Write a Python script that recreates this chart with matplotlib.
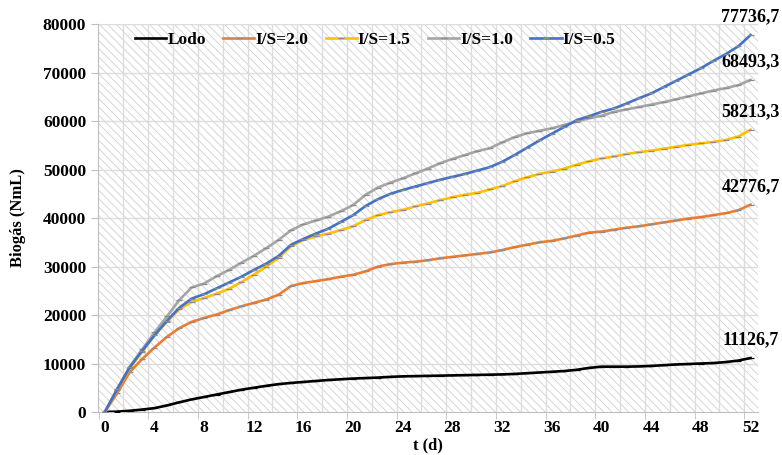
import matplotlib.pyplot as plt
import numpy as np
from matplotlib.patches import Rectangle

plt.rcParams['font.family'] = ['Liberation Serif', 'DejaVu Serif']
plt.rcParams['font.weight'] = 'bold'
plt.rcParams['hatch.linewidth'] = 0.6

# cumulative biogas production (NmL) per day of digestion
days = np.arange(0, 53)

lodo = [0, 80, 250, 500, 800, 1350, 2000, 2600, 3100, 3600,
        4100, 4600, 5000, 5400, 5750, 6000, 6200, 6400, 6600, 6750,
        6900, 7000, 7100, 7250, 7350, 7400, 7450, 7500, 7550, 7600,
        7650, 7700, 7750, 7850, 8000, 8150, 8300, 8450, 8700, 9100,
        9350, 9350, 9350, 9400, 9500, 9650, 9800, 9900, 10000, 10100,
        10300, 10600, 11126.7]

is_20 = [0, 3900, 8200, 10900, 13300, 15500, 17300, 18600, 19400, 20100,
         21000, 21800, 22500, 23200, 24200, 26000, 26600, 27000, 27400, 27900,
         28300, 29000, 30000, 30500, 30800, 31000, 31300, 31700, 32000, 32300,
         32600, 32900, 33400, 34000, 34500, 35000, 35300, 35800, 36400, 37000,
         37200, 37600, 38000, 38300, 38700, 39100, 39500, 39900, 40200, 40600,
         41000, 41600, 42776.7]

is_15 = [0, 4600, 9000, 12400, 15800, 18600, 21200, 22700, 23500, 24400,
         25400, 26800, 28300, 30000, 31800, 34200, 35500, 36200, 36800, 37500,
         38300, 39600, 40600, 41200, 41700, 42400, 43000, 43700, 44300, 44800,
         45200, 45900, 46600, 47600, 48400, 49100, 49600, 50200, 51000, 51700,
         52300, 52700, 53200, 53600, 53900, 54300, 54700, 55100, 55400, 55700,
         56100, 56800, 58213.3]

is_10 = [0, 4800, 9300, 12900, 16400, 19700, 23100, 25700, 26500, 28000,
         29300, 30800, 32200, 33800, 35500, 37500, 38700, 39500, 40300, 41400,
         42700, 44800, 46300, 47300, 48200, 49200, 50200, 51300, 52200, 53000,
         53800, 54400, 55600, 56700, 57500, 58000, 58500, 59200, 59900, 60600,
         61100, 61900, 62400, 62900, 63400, 63900, 64500, 65100, 65700, 66300,
         66800, 67400, 68493.3]

is_05 = [0, 4700, 9200, 12600, 15800, 18800, 21500, 23400, 24300, 25500,
         26700, 27900, 29300, 30600, 32200, 34500, 35700, 36800, 37800, 39200,
         40600, 42500, 43900, 45000, 45800, 46500, 47200, 47900, 48500, 49100,
         49800, 50500, 51600, 53000, 54500, 56000, 57400, 58800, 60200, 61000,
         61900, 62600, 63600, 64700, 65700, 67000, 68300, 69600, 70900, 72400,
         73800, 75400, 77736.7]

names = ['Lodo', 'I/S=2.0', 'I/S=1.5', 'I/S=1.0', 'I/S=0.5']
colors = ['#000000', '#ED7D31', '#FFC000', '#A5A5A5', '#4472C4']
series = [lodo, is_20, is_15, is_10, is_05]

fig = plt.figure(figsize=(7.82, 4.55), dpi=100)
ax = fig.add_axes([0.1253, 0.0945, 0.8440, 0.8525])

# diagonal hatched plot area
ax.add_patch(Rectangle((0, 0), 1, 1, transform=ax.transAxes, fill=False,
                       hatch='\\\\\\\\', edgecolor='#cfcfcf', linewidth=0, zorder=0))

for vals, name, c in zip(series, names, colors):
    ax.plot(days, vals, color=c, lw=1.9, label=name, zorder=3,
            marker='_', ms=4, mew=0.9, mec='#8c8c8c' if name != 'Lodo' else c)
    ax.annotate(f'{vals[-1]:.1f}'.replace('.', ','), (days[-1], vals[-1]),
                xytext=(0, 13), textcoords='offset points', ha='center', va='center',
                fontsize=13, fontweight='bold', annotation_clip=False)

ax.set_xlim(-0.55, 52.6)
ax.set_ylim(0, 80000)
ax.set_xticks(np.arange(0, 53, 4))
ax.set_xticks(np.arange(-0.5, 53, 4), minor=True)
ax.tick_params(axis='x', which='major', length=0, labelsize=12.5, pad=6)
ax.tick_params(axis='x', which='minor', length=5, color='#bfbfbf')
ax.set_yticks(np.arange(0, 80001, 10000))
ax.tick_params(axis='y', length=5, color='#bfbfbf', labelsize=12.5)

# gridlines
for gx in np.arange(1.5, 53, 2):
    ax.axvline(gx, color='#dcdcdc', lw=1, zorder=1)
for gy in np.arange(10000, 80001, 10000):
    ax.axhline(gy, color='#dcdcdc', lw=1, zorder=1)

for s in ['top', 'right']:
    ax.spines[s].set_visible(False)
for s in ['left', 'bottom']:
    ax.spines[s].set_color('#bfbfbf')

ax.set_xlabel('t (d)', fontsize=12, fontweight='bold', labelpad=1)
ax.set_ylabel('Biogás (NmL)', fontsize=12, fontweight='bold', labelpad=12)

ax.legend(loc='upper center', bbox_to_anchor=(0.42, 1.02), ncol=5, frameon=False,
          handlelength=1.8, handletextpad=0.05, columnspacing=1.0,
          prop={'weight': 'bold', 'size': 12.5})

fig.savefig('out.png', dpi=100)
